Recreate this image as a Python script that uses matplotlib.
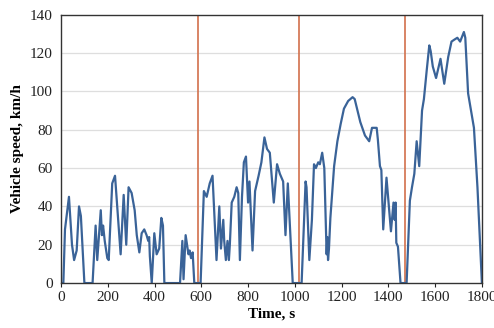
import numpy as np
import matplotlib
matplotlib.use("Agg")
import matplotlib.pyplot as plt

plt.rcParams['font.family'] = ['Liberation Serif', 'DejaVu Serif']

# speed trace (time s, speed km/h)
time_s = [0, 10, 17, 34, 47, 56, 67, 77, 85, 100, 135, 148, 155, 170, 175, 180, 187, 198, 204,
          219, 231, 255, 268, 279, 289, 302, 315, 324, 335, 345, 356, 366, 373, 377, 380, 388,
          399, 409, 420, 429, 436, 442, 509, 519, 524, 533, 545, 550, 556, 563, 570, 597,
          611, 623, 636, 648, 665, 677, 684, 694, 698, 705, 712, 718, 722, 730, 741, 751, 758,
          765, 774, 782, 791, 800, 806, 819, 830, 845, 857, 870, 881, 893, 910, 924, 936, 950,
          960, 970, 991, 1029, 1046, 1050, 1062, 1073, 1082, 1090, 1100, 1107, 1117, 1126, 1136,
          1139, 1142, 1146, 1152, 1168, 1182, 1196, 1210, 1228, 1247, 1256, 1264, 1280, 1300,
          1318, 1330, 1350, 1355, 1364, 1370, 1378, 1392, 1411, 1422, 1427, 1431, 1434, 1441,
          1452, 1478, 1492, 1501, 1511, 1521, 1532, 1544, 1552, 1564, 1575, 1581, 1590, 1604,
          1623, 1639, 1656, 1670, 1682, 1695, 1707, 1723, 1729, 1741, 1766, 1781, 1800]
speed_kmh = [0, 0, 28, 45, 20, 12, 17, 40, 35, 0, 0, 30, 12, 38, 25, 30, 22, 13, 12,
             52, 56, 15, 46, 20, 50, 47, 38, 25, 16, 26, 28, 25, 22, 24, 14, 0,
             26, 15, 18, 34, 30, 0, 0, 22, 2, 25, 15, 17, 13, 16, 0, 0,
             48, 45, 52, 56, 12, 40, 18, 33, 22, 12, 22, 12, 20, 42, 45, 50, 47,
             12, 45, 63, 66, 42, 53, 17, 48, 56, 63, 76, 70, 68, 42, 62, 57, 53,
             25, 52, 0, 0, 53, 50, 12, 33, 62, 60, 63, 62, 68, 60, 15,
             24, 12, 18, 34, 61, 74, 83, 91, 95, 97, 96, 92, 84, 77,
             74, 81, 81, 75, 61, 59, 28, 55, 27, 42, 33, 42, 21, 19,
             0, 0, 43, 50, 57, 74, 61, 90, 96, 111, 124, 121, 113, 107,
             117, 104, 118, 126, 127, 128, 126, 131, 128, 99, 81, 50, 0]

phase_ends = [585, 1019, 1472]

fig = plt.figure(figsize=(4.94, 3.28), dpi=100)
ax = fig.add_axes([0.1235, 0.137, 0.852, 0.818])

for y in range(20, 140, 20):
    ax.axhline(y, color='#dedede', lw=0.9, zorder=0)
for t in phase_ends:
    ax.axvline(t, color='#d2704c', lw=1.2, zorder=1)

ax.plot(time_s, speed_kmh, color='#3a6398', lw=1.6, zorder=2)

ax.set_xlim(0, 1800)
ax.set_ylim(0, 140)
ax.set_xticks(np.arange(0, 1801, 200))
ax.set_yticks(np.arange(0, 141, 20))
ax.tick_params(axis='x', length=3, width=0.8, direction='out', labelsize=11, pad=3, colors='#222222')
ax.tick_params(axis='y', length=0, labelsize=11, pad=6, colors='#222222')
for s in ax.spines.values():
    s.set_color('#333333')
    s.set_linewidth(1.0)

ax.set_xlabel('Time, s', fontsize=11, fontweight='bold', labelpad=2)
ax.set_ylabel('Vehicle speed, km/h', fontsize=11, fontweight='bold', labelpad=4)

fig.savefig('out.png', dpi=100)
